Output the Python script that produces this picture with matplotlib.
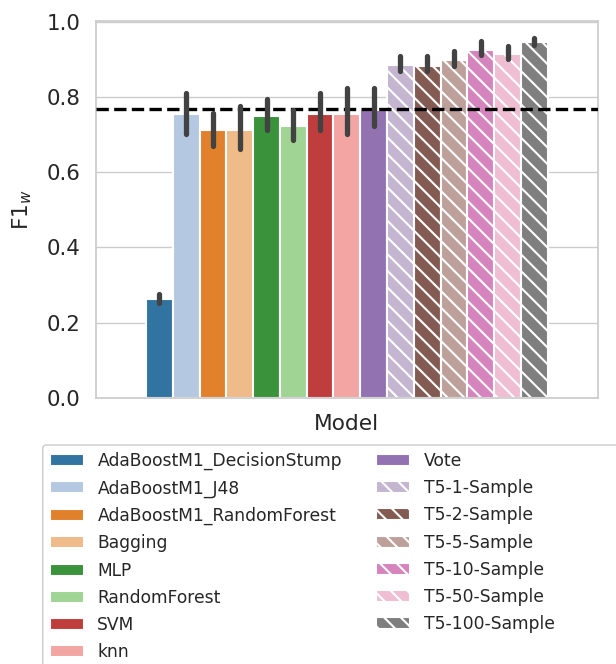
import colorsys
import matplotlib
matplotlib.use("Agg")
import matplotlib.pyplot as plt
from matplotlib.patches import Patch, FancyBboxPatch
import matplotlib.colors as mcolors

# ---- data ----
models = ["AdaBoostM1_DecisionStump", "AdaBoostM1_J48", "AdaBoostM1_RandomForest",
          "Bagging", "MLP", "RandomForest", "SVM", "knn", "Vote",
          "T5-1-Sample", "T5-2-Sample", "T5-5-Sample", "T5-10-Sample",
          "T5-50-Sample", "T5-100-Sample"]
f1_mean = [0.262, 0.756, 0.712, 0.712, 0.750, 0.723, 0.756, 0.756, 0.765,
           0.887, 0.884, 0.898, 0.927, 0.915, 0.946]
ci_low = [0.253, 0.703, 0.669, 0.661, 0.714, 0.687, 0.714, 0.701, 0.723,
          0.869, 0.869, 0.884, 0.913, 0.901, 0.939]
ci_high = [0.276, 0.810, 0.758, 0.777, 0.796, 0.765, 0.812, 0.824, 0.824,
           0.911, 0.909, 0.922, 0.949, 0.936, 0.958]
baseline = 0.768
hatched = [m.startswith("T5") for m in models]

palette = ["#1f77b4", "#aec7e8", "#ff7f0e", "#ffbb78", "#2ca02c", "#98df8a",
           "#d62728", "#ff9896", "#9467bd", "#c5b0d5", "#8c564b", "#c49c94",
           "#e377c2", "#f7b6d2", "#7f7f7f"]


def desat(c, prop=0.75):
    h, l, s = colorsys.rgb_to_hls(*mcolors.to_rgb(c))
    return colorsys.hls_to_rgb(h, l, s * prop)


colors = [desat(c) for c in palette]

plt.rcParams["font.family"] = ["DejaVu Sans"]
plt.rcParams["text.color"] = ".15"
plt.rcParams["axes.labelcolor"] = ".15"
plt.rcParams["ytick.color"] = ".15"
plt.rcParams["hatch.linewidth"] = 1.5

fig = plt.figure(figsize=(6.16, 6.64), dpi=100)
ax = fig.add_axes([0.1554, 0.4011, 0.8154, 0.5673])
ax.set_axisbelow(True)
ax.grid(True, axis="y", color=".8", lw=1.0)
for s in ax.spines.values():
    s.set_color(".8")
    s.set_linewidth(1.25)

n = len(models)
w = 0.8 / n
xs = [-0.4 + (i + 0.5) * w for i in range(n)]
for i in range(n):
    ax.bar(xs[i], f1_mean[i], width=w, color=colors[i], edgecolor="white",
           linewidth=1.5, hatch="\\\\" if hatched[i] else None, zorder=2)
    ax.plot([xs[i], xs[i]], [ci_low[i], ci_high[i]], color=".26", lw=3.8,
            solid_capstyle="round", zorder=4)

ax.axhline(baseline, color="black", ls="--", lw=2.4, zorder=3)

ax.set_xlim(-0.5, 0.5)
ax.set_ylim(0, 1.003)
ax.set_xticks([])
ax.set_yticks([0.0, 0.2, 0.4, 0.6, 0.8, 1.0])
ax.set_yticklabels(["0.0", "0.2", "0.4", "0.6", "0.8", "1.0"])
ax.tick_params(axis="y", length=0, pad=11, labelsize=15.4)
ax.set_ylabel(r"F1$_w$", fontsize=15.6, labelpad=9)
ax.set_xlabel("Model", fontsize=15.6, labelpad=11.5)

handles = [Patch(facecolor=colors[i], edgecolor="white", linewidth=1.5,
                 hatch="\\\\" if hatched[i] else None) for i in range(n)]
leg = fig.legend(handles, models, loc="upper left", ncol=2, frameon=False,
                 fontsize=12.3, labelspacing=0.54,
                 bbox_to_anchor=(42.7 / 616, 1 - 445 / 664),
                 borderaxespad=0)

frame = FancyBboxPatch((42.7 / 616, -0.05), 1.2, 1 - 445 / 664 + 0.05,
                       boxstyle="round,pad=0,rounding_size=0.006",
                       transform=fig.transFigure, facecolor="white",
                       edgecolor=".8", lw=1.0, zorder=0)
fig.patches.append(frame)

fig.savefig("out.png", dpi=100)
